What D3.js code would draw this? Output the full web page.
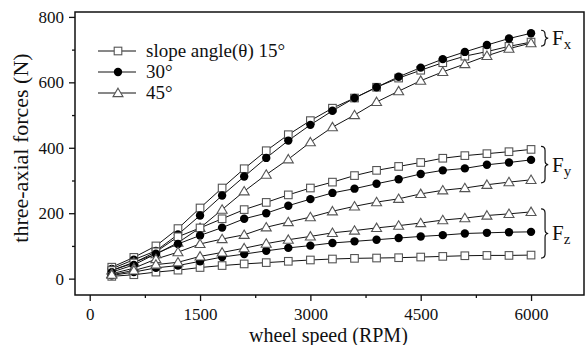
<!DOCTYPE html>
<html>
<head>
<meta charset="utf-8">
<script src="https://cdn.jsdelivr.net/npm/d3@7"></script>
<style>
  body { margin: 0; background: #fff; }
</style>
</head>
<body>
<div id="chart"></div>
<script>
// wheel speed (RPM)
const rpm = [300, 600, 900, 1200, 1500, 1800, 2100, 2400, 2700, 3000,
	3300, 3600, 3900, 4200, 4500, 4800, 5100, 5400, 5700, 6000];

// Fx, Fy, Fz for slope angle 15, 30, 45 degrees (N)
const fx15 = [35, 65, 100, 153, 216, 277, 336, 391, 440, 483, 521, 552, 585, 613, 637, 660, 680, 694, 710, 723];
const fx30 = [30, 58, 85, 135, 193, 254, 312, 369, 422, 470, 513, 552, 585, 617, 645, 671, 693, 714, 734, 750];
const fx45 = [25, 50, 75, 110, 155, 211, 267, 318, 365, 417, 463, 500, 540, 573, 605, 632, 656, 681, 703, 720];
const fy15 = [25, 48, 82, 128, 155, 183, 211, 233, 256, 277, 295, 315, 331, 343, 355, 368, 376, 382, 388, 395];
const fy30 = [20, 42, 76, 106, 132, 156, 183, 200, 223, 243, 262, 275, 290, 304, 320, 331, 337, 348, 355, 363];
const fy45 = [15, 32, 60, 81, 106, 121, 134, 157, 173, 188, 206, 221, 234, 244, 259, 270, 277, 287, 295, 302];
const fz15 = [7, 12, 20, 26, 34, 40, 45, 49, 53, 57, 60, 62, 63, 64, 66, 68, 70, 71, 71, 72];
const fz30 = [10, 20, 33, 40, 53, 66, 75, 85, 94, 101, 109, 114, 119, 124, 129, 133, 138, 140, 142, 143];
const fz45 = [12, 25, 43, 50, 68, 80, 93, 107, 119, 129, 140, 147, 155, 162, 170, 179, 185, 193, 198, 204];

const xTicks = [0, 1500, 3000, 4500, 6000];
const xMinor = [750, 2250, 3750, 5250];
const yTicks = [0, 200, 400, 600, 800];
const yMinor = [100, 300, 500, 700];

const legendLabels = ["slope angle(\u03b8) 15\u00b0", "30\u00b0", "45\u00b0"];
const groupLabels = ["x", "y", "z"];

const serif = "'Liberation Serif', 'Times New Roman', 'DejaVu Serif', serif";
const width = 588, height = 345;
const margin = { top: 12, left: 75, right: 4, bottom: 50 };

const svg = d3.select("#chart").append("svg")
	.attr("width", width)
	.attr("height", height);

const xScale = d3.scaleLinear()
	.domain([-200, 6720])
	.range([margin.left, width - margin.right]);
const yScale = d3.scaleLinear()
	.domain([-50, 815])
	.range([height - margin.bottom, margin.top]);

// axes
svg.append("g")
	.attr("transform", `translate(0, ${height - margin.bottom})`)
	.call(d3.axisBottom(xScale).tickValues(xTicks).tickSize(6).tickPadding(7).tickFormat(d3.format("d")));
svg.append("g")
	.attr("transform", `translate(0, ${height - margin.bottom})`)
	.call(d3.axisBottom(xScale).tickValues(xMinor).tickSize(3).tickFormat(""));
svg.append("g")
	.attr("transform", `translate(${margin.left}, 0)`)
	.call(d3.axisLeft(yScale).tickValues(yTicks).tickSize(6).tickPadding(5).tickFormat(d3.format("d")));
svg.append("g")
	.attr("transform", `translate(${margin.left}, 0)`)
	.call(d3.axisLeft(yScale).tickValues(yMinor).tickSize(3).tickFormat(""));

svg.selectAll(".domain").remove();
svg.selectAll(".tick line").attr("stroke", "#111").attr("stroke-width", 1.3);
svg.selectAll(".tick text")
	.attr("font-family", serif)
	.attr("font-size", 17)
	.attr("fill", "#111");

// frame
svg.append("rect")
	.attr("x", margin.left)
	.attr("y", margin.top)
	.attr("width", width - margin.right - margin.left)
	.attr("height", height - margin.bottom - margin.top)
	.attr("fill", "none")
	.attr("stroke", "#111")
	.attr("stroke-width", 1.5);

// axis titles
svg.append("text")
	.text("wheel speed (RPM)")
	.attr("x", (xScale(0) + xScale(6000)) / 2 + 18)
	.attr("y", height - 3)
	.attr("text-anchor", "middle")
	.attr("font-family", serif)
	.attr("font-size", 20)
	.attr("fill", "#111");

svg.append("text")
	.text("three-axial forces (N)")
	.attr("text-anchor", "middle")
	.attr("font-family", serif)
	.attr("font-size", 22)
	.attr("fill", "#111")
	.attr("transform", `translate(${28}, ${148}) rotate(-90)`);

// series
const series = [
	{ values: fx15, shape: "square" }, { values: fx30, shape: "circle" }, { values: fx45, shape: "triangle" },
	{ values: fy15, shape: "square" }, { values: fy30, shape: "circle" }, { values: fy45, shape: "triangle" },
	{ values: fz15, shape: "square" }, { values: fz30, shape: "circle" }, { values: fz45, shape: "triangle" },
];

const lineGenerator = d3.line()
	.x((d) => xScale(d.rpm))
	.y((d) => yScale(d.value));

const dataReady = series.map((s) => ({
	shape: s.shape,
	values: rpm.map((r, i) => ({ rpm: r, value: s.values[i] })),
}));

svg.append("g")
	.selectAll("path")
	.data(dataReady)
	.join("path")
	.attr("d", (d) => lineGenerator(d.values))
	.attr("fill", "none")
	.attr("stroke", "#111")
	.attr("stroke-width", 1);

function drawMarker(g, shape, x, y) {
	if (shape === "square") {
		g.append("rect")
			.attr("x", x - 3.8).attr("y", y - 3.8)
			.attr("width", 7.6).attr("height", 7.6)
			.attr("fill", "#fff").attr("stroke", "#555").attr("stroke-width", 1.1);
	} else if (shape === "circle") {
		g.append("circle")
			.attr("cx", x).attr("cy", y).attr("r", 4.2)
			.attr("fill", "#000");
	} else {
		g.append("path")
			.attr("d", `M${x},${y - 4.8}L${x + 5},${y + 3.6}L${x - 5},${y + 3.6}Z`)
			.attr("fill", "#fff").attr("stroke", "#555").attr("stroke-width", 1.1);
	}
}

const markers = svg.append("g");
dataReady.forEach((s) => {
	s.values.forEach((d) => drawMarker(markers, s.shape, xScale(d.rpm), yScale(d.value)));
});

// legend
const legend = svg.append("g");
["square", "circle", "triangle"].forEach((shape, i) => {
	const ly = 51 + i * 21;
	legend.append("line")
		.attr("x1", 98).attr("x2", 136).attr("y1", ly).attr("y2", ly)
		.attr("stroke", "#111").attr("stroke-width", 1);
	drawMarker(legend, shape, 118, ly);
	legend.append("text")
		.text(legendLabels[i])
		.attr("x", 146).attr("y", ly + 6)
		.attr("font-family", serif)
		.attr("font-size", 19)
		.attr("fill", "#111");
});

// braces and group labels
function brace(x, y0, y1) {
	const p = d3.path();
	const ym = (y0 + y1) / 2;
	const w = 4;
	p.moveTo(x, y0);
	p.quadraticCurveTo(x + w, y0, x + w, y0 + 4);
	p.lineTo(x + w, ym - 4);
	p.quadraticCurveTo(x + w, ym, x + w * 1.8, ym);
	p.quadraticCurveTo(x + w, ym, x + w, ym + 4);
	p.lineTo(x + w, y1 - 4);
	p.quadraticCurveTo(x + w, y1, x, y1);
	return p.toString();
}

const lastIdx = rpm.length - 1;
const groups = [
	{ top: fx30[lastIdx], bottom: fx45[lastIdx] },
	{ top: fy15[lastIdx], bottom: fy45[lastIdx] },
	{ top: fz45[lastIdx], bottom: fz15[lastIdx] },
];
groups.forEach((g, i) => {
	const y0 = yScale(g.top) - 3;
	const y1 = yScale(g.bottom) + 3;
	const x = xScale(6000) + 10;
	svg.append("path")
		.attr("d", brace(x, y0, y1))
		.attr("fill", "none")
		.attr("stroke", "#111")
		.attr("stroke-width", 1.2);
	const t = svg.append("text")
		.attr("x", x + 11)
		.attr("y", (y0 + y1) / 2 + 7)
		.attr("font-family", serif)
		.attr("font-size", 21)
		.attr("fill", "#111");
	t.append("tspan").text("F");
	t.append("tspan").text(groupLabels[i]).attr("dy", 4).attr("font-size", 15);
});
</script>
</body>
</html>
